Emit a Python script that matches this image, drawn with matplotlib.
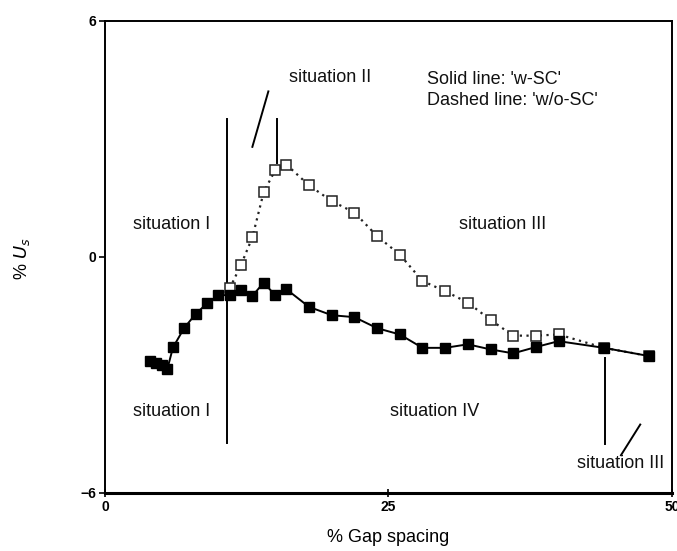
"""Velocity change against gap spacing, with and without SC."""

import matplotlib

matplotlib.use("Agg")
import matplotlib.pyplot as plt

# with SC (solid line, filled squares)
gap_wsc = [4, 4.5, 5, 5.5, 6, 7, 8, 9, 10, 11, 12, 13, 14, 15, 16, 18, 20,
           22, 24, 26, 28, 30, 32, 34, 36, 38, 40, 44, 48]
us_wsc = [-2.65, -2.7, -2.75, -2.85, -2.3, -1.8, -1.45, -1.18, -0.97, -0.97,
          -0.85, -0.99, -0.65, -0.97, -0.82, -1.27, -1.48, -1.53, -1.81,
          -1.97, -2.31, -2.31, -2.22, -2.35, -2.45, -2.29, -2.14, -2.31, -2.52]

# without SC (dotted line, open squares)
gap_wosc = [11, 12, 13, 14, 15, 16, 18, 20, 22, 24, 26, 28, 30, 32, 34, 36,
            38, 40, 44, 48]
us_wosc = [-0.8, -0.2, 0.5, 1.65, 2.2, 2.35, 1.82, 1.42, 1.13, 0.53, 0.06,
           -0.61, -0.87, -1.16, -1.6, -2.0, -2.0, -1.97, -2.31, -2.52]

x_ticks = [0, 25, 50]
y_ticks = [-6, 0, 6]

# region labels: (text, x, y)
region_labels = [
    ("situation II", 19.9, 4.56),
    ("situation I", 5.9, 0.83),
    ("situation I", 5.9, -3.92),
    ("situation III", 35.1, 0.83),
    ("situation IV", 29.1, -3.92),
    ("situation III", 45.45, -5.25),
]

# boundary marks between regions: ((x0, x1), (y0, y1))
boundary_lines = [
    ((10.77, 10.77), (3.5, -4.73)),
    ((15.15, 15.15), (3.5, 2.4)),
    ((14.41, 13.0), (4.21, 2.8)),
    ((44.07, 44.07), (-2.56, -4.76)),
    ((47.2, 45.5), (-4.26, -5.04)),
]


def main() -> None:
    plt.rcParams["font.family"] = ["Liberation Sans", "DejaVu Sans"]

    fig = plt.figure(figsize=(6.77, 5.51), dpi=100)
    ax = fig.add_axes([0.155, 0.1053, 0.8376, 0.8566])

    for (x0, x1), (y0, y1) in boundary_lines:
        ax.plot([x0, x1], [y0, y1], color="black", lw=1.4)

    ax.plot(gap_wosc, us_wosc, linestyle=(0, (1, 2)), color="#222222", lw=1.6,
            marker="s", markersize=6.5, markerfacecolor="white",
            markeredgecolor="#222222", markeredgewidth=1.1)
    ax.plot(gap_wsc, us_wsc, linestyle="-", color="black", lw=1.4,
            marker="s", markersize=7, markerfacecolor="black",
            markeredgecolor="black")

    for text, x, y in region_labels:
        ax.text(x, y, text, ha="center", va="center", fontsize=13,
                color="#111111")

    ax.text(28.4, 4.52, "Solid line: 'w-SC'", ha="left", va="center",
            fontsize=13, color="#111111")
    ax.text(28.4, 3.97, "Dashed line: 'w/o-SC'", ha="left", va="center",
            fontsize=13, color="#111111")

    ax.set_xlim(0, 50)
    ax.set_ylim(-6, 6)
    ax.set_xticks(x_ticks)
    ax.set_yticks(y_ticks)
    ax.tick_params(axis="x", direction="inout", length=6, width=1.2,
                   labelsize=10, pad=2)
    ax.tick_params(axis="y", direction="out", length=4, width=1.2,
                   labelsize=10, pad=2)
    for label in ax.get_xticklabels() + ax.get_yticklabels():
        label.set_fontweight("bold")

    for side in ["left", "right", "top"]:
        ax.spines[side].set_linewidth(1.4)
    ax.spines["bottom"].set_linewidth(2.2)

    fig.text(0.033, 0.53, "% $U_s$", rotation=90, ha="center", va="center",
             fontsize=13)
    fig.text(0.573, 0.025, "% Gap spacing", ha="center", va="center",
             fontsize=13)

    fig.savefig("out.png", dpi=100)


if __name__ == "__main__":
    main()
